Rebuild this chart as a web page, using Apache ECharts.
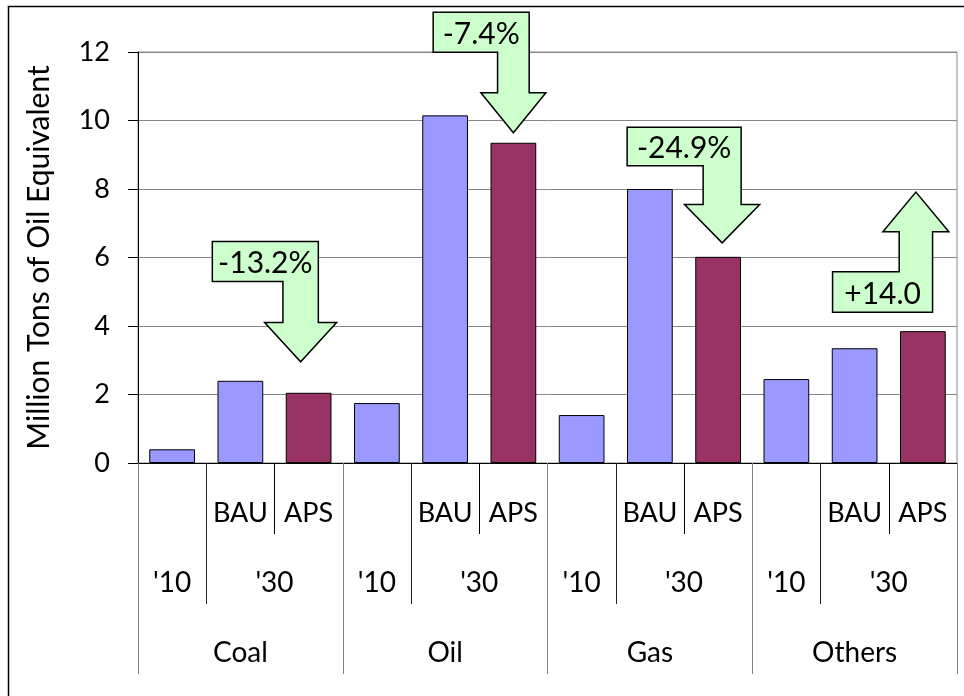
<!DOCTYPE html>
<html>
<head>
<meta charset="utf-8">
<script src="https://cdn.jsdelivr.net/npm/echarts@6/dist/echarts.min.js"></script>
<style>
  html, body { margin: 0; padding: 0; background: #fff; }
  #chart { width: 964px; height: 696px; }
</style>
</head>
<body>
<div id="chart"></div>
<script>
// categories and tick labels
const groups = ['Coal', 'Oil', 'Gas', 'Others'];
const periods = ["'10", "'30"];
const scenarios = ['', 'BAU', 'APS'];
const yTicks = [0, 2, 4, 6, 8, 10, 12];

// Million tons of oil equivalent
const values2010 = [0.4, 1.75, 1.4, 2.45];
const valuesBAU = [2.4, 10.15, 8.0, 3.35];
const valuesAPS = [2.05, 9.35, 6.02, 3.85];
const changeLabels = ['-13.2%', '-7.4%', '-24.9%', '+14.0'];

const FONT = 'Lato';
const chart = echarts.init(document.getElementById('chart'));

// level 1: one slot per bar ('10 | BAU | APS)
const slotLabels = [];
const blueData = [];
const apsData = [];
groups.forEach((g, i) => {
  scenarios.forEach((s, j) => {
    slotLabels.push(s);
    if (j === 0) { blueData.push(values2010[i]); apsData.push('-'); }
    else if (j === 1) { blueData.push(valuesBAU[i]); apsData.push('-'); }
    else { blueData.push('-'); apsData.push(valuesAPS[i]); }
  });
});

// levels 2 and 3 live on half-slot points 0..24
const periodRow = [];
const groupRow = [];
for (let k = 0; k <= groups.length * 6; k++) {
  const r = k % 6;
  periodRow.push(r === 1 ? periods[0] : r === 4 ? periods[1] : '');
  groupRow.push(r === 3 ? groups[(k - 3) / 6] : '');
}

const labelStyle = (size) => ({ color: '#000', fontFamily: FONT, fontSize: size });

chart.setOption({
  animation: false,
  textStyle: { fontFamily: FONT },
  grid: {
    left: 138, right: 7, top: 52, bottom: 233,
    show: true, borderColor: '#8a8a8a', borderWidth: 1
  },
  xAxis: [
    {
      type: 'category',
      data: slotLabels,
      position: 'bottom',
      axisLine: { show: true, lineStyle: { color: '#000', width: 1 } },
      axisTick: { show: true, interval: 0, length: 71, lineStyle: { color: '#000' } },
      axisLabel: Object.assign({ interval: 0, margin: 50, verticalAlign: 'middle' }, labelStyle(27)),
      splitLine: { show: false }
    },
    {
      type: 'category',
      data: periodRow,
      boundaryGap: false,
      position: 'bottom',
      offset: 0,
      axisLine: { show: false },
      axisTick: { show: true, interval: (i) => i % 6 === 0 || i % 6 === 2, length: 141, lineStyle: { color: '#222' } },
      axisLabel: Object.assign({ interval: 0, margin: 120, verticalAlign: 'middle' }, labelStyle(28)),
      splitLine: { show: false }
    },
    {
      type: 'category',
      data: groupRow,
      boundaryGap: false,
      position: 'bottom',
      offset: 0,
      axisLine: { show: false },
      axisTick: { show: true, interval: (i) => i % 6 === 0, length: 211, lineStyle: { color: '#808080' } },
      axisLabel: Object.assign({ interval: 0, margin: 190, verticalAlign: 'middle' }, labelStyle(28)),
      splitLine: { show: false }
    }
  ],
  yAxis: {
    type: 'value',
    min: yTicks[0],
    max: yTicks[yTicks.length - 1],
    interval: yTicks[1] - yTicks[0],
    name: 'Million Tons of Oil Equivalent',
    nameLocation: 'middle',
    nameGap: 84,
    nameTextStyle: { color: '#000', fontFamily: FONT, fontSize: 30 },
    axisLine: { show: true, lineStyle: { color: '#000' } },
    axisTick: { show: true, length: 10, lineStyle: { color: '#000' } },
    axisLabel: Object.assign({ margin: 28 }, labelStyle(27)),
    splitLine: { lineStyle: { color: '#878787', width: 1 } }
  },
  series: [
    {
      name: '2010 / BAU',
      type: 'bar',
      data: blueData,
      barWidth: '67%',
      barGap: '-100%',
      itemStyle: { color: '#9999FF', borderColor: '#000', borderWidth: 1 }
    },
    {
      name: 'APS',
      type: 'bar',
      data: apsData,
      barWidth: '67%',
      barGap: '-100%',
      itemStyle: { color: '#993366', borderColor: '#000', borderWidth: 1 }
    }
  ]
});

// change callouts, anchored to the APS bar of each group
const arrowLayout = [
  { dir: 'down', dx: -8, gap: 31, boxW: 106, shaft: 17.7, head: 36, headLen: 39.4, boxH: 40, stem: 80.4 },
  { dir: 'down', dx: 0, gap: 10, boxW: 96, shaft: 15.8, head: 32.5, headLen: 40, boxH: 40, stem: 80.6 },
  { dir: 'down', dx: 4, gap: 14, boxW: 114, shaft: 19, head: 37.6, headLen: 38.3, boxH: 38.6, stem: 77 },
  { dir: 'up', dx: -7, gap: 19, boxW: 100, shaft: 16.7, head: 33, headLen: 39.6, boxH: 40.4, stem: 79.6 }
];

const graphics = [];
groups.forEach((g, i) => {
  const a = arrowLayout[i];
  const p = chart.convertToPixel({ xAxisIndex: 0, yAxisIndex: 0 }, [i * 3 + 2, valuesAPS[i]]);
  const tx = p[0] + a.dx;
  let pts, boxTop, boxBottom;
  const boxRight = tx + a.shaft;
  const boxLeft = boxRight - a.boxW;
  if (a.dir === 'down') {
    const ty = p[1] - a.gap;
    boxBottom = ty - a.stem;
    boxTop = boxBottom - a.boxH;
    const hy = ty - a.headLen;
    pts = [[boxLeft, boxTop], [boxRight, boxTop], [boxRight, hy], [tx + a.head, hy], [tx, ty],
           [tx - a.head, hy], [tx - a.shaft, hy], [tx - a.shaft, boxBottom], [boxLeft, boxBottom]];
  } else {
    boxBottom = p[1] - a.gap;
    boxTop = boxBottom - a.boxH;
    const ty = boxTop - a.stem;
    const hy = ty + a.headLen;
    pts = [[boxLeft, boxBottom], [boxRight, boxBottom], [boxRight, hy], [tx + a.head, hy], [tx, ty],
           [tx - a.head, hy], [tx - a.shaft, hy], [tx - a.shaft, boxTop], [boxLeft, boxTop]];
  }
  graphics.push({
    type: 'polygon',
    z: 50,
    shape: { points: pts },
    style: { fill: '#CCFFCC', stroke: '#000', lineWidth: 1.5 }
  });
  graphics.push({
    type: 'text',
    z: 51,
    x: (boxLeft + boxRight) / 2,
    y: (boxTop + boxBottom) / 2 + 2,
    style: {
      text: changeLabels[i], fill: '#000', font: '30px ' + FONT,
      align: 'center', verticalAlign: 'middle'
    }
  });
});

// outer frame (only its top and left edges fall inside the picture)
graphics.push({
  type: 'rect',
  z: 60,
  shape: { x: 8.5, y: 6.5, width: 1200, height: 1200 },
  style: { fill: 'transparent', stroke: '#000', lineWidth: 1.5 }
});

chart.setOption({ graphic: graphics });
</script>
</body>
</html>
